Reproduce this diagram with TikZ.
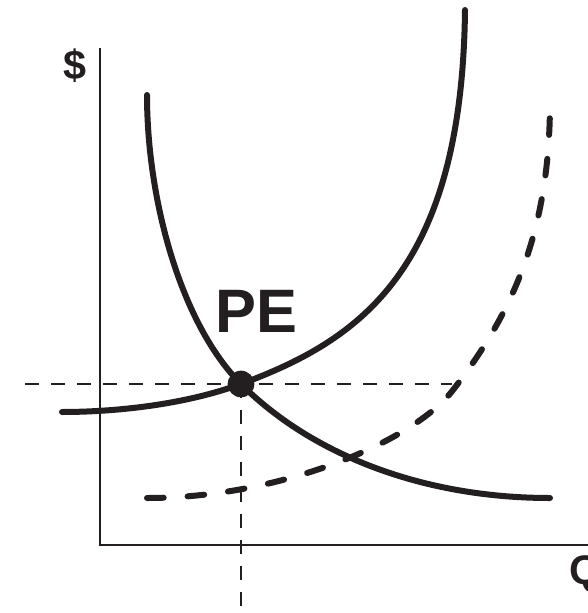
\documentclass[tikz,border=0pt]{standalone}
\usepackage{fontspec}
\setmainfont{Liberation Sans}
\definecolor{ink}{HTML}{231F20}
\begin{document}
\begin{tikzpicture}[x=0.75pt,y=-0.75pt,
  curve/.style={ink,line width=4.5pt,line cap=round,line join=round},
  dcurve/.style={curve,dash pattern=on 12.5pt off 18pt},
  axis/.style={ink,line width=1.9pt},
  guide/.style={ink,line width=1.4pt,dash pattern=on 10.5pt off 9pt},
  lbl/.style={ink,font=\fontsize{31}{31}\selectfont\bfseries,inner sep=0pt}]
\useasboundingbox (0,0) rectangle (588,613);
\clip (0,0) rectangle (588,613);
% axes
\coordinate (ytop) at (100,48);
\coordinate (orig) at (100,545);
\coordinate (xend) at (600,545);
\draw[axis] (ytop) -- (orig) -- (xend);
% labels
\node[lbl] (dollar) at (75,66) {\$};
\node[lbl,anchor=base west] (q) at (569,584) {Q};
% equilibrium point
\node[circle,fill=ink,minimum size=20pt,inner sep=0pt] (pe) at (241,384) {};
\node[ink,font=\fontsize{46}{46}\selectfont\bfseries,inner sep=0pt] (pelbl) at (256,311) {PE};
% guides
\coordinate (hl) at (25,384);
\coordinate (hr) at (452,384);
\coordinate (vb) at (241,620);
\draw[guide] (hl) -- (hr);
\draw[guide] (pe.center) -- (vb);
% end points of curves
\coordinate (s0) at (62,412);
\coordinate (s1) at (465,10);
\coordinate (d0) at (147,95);
\coordinate (d1) at (550,498);
\coordinate (n0) at (147,498);
\coordinate (nm) at (453,390);
\coordinate (n1) at (550,95);
% increasing curve
\draw[curve] (s0) .. controls (110,412) and (181,406) .. (pe.center)
  .. controls (360,340) and (462,270) .. (s1);
% decreasing curve
\draw[curve] (d0) .. controls (147,200) and (181,324) .. (pe.center)
  .. controls (310,453) and (420,498) .. (d1);
% dashed shifted curve
\draw[dcurve] (n0) .. controls (280,498) and (413,442) .. (nm)
  .. controls (515,310) and (551,227) .. (n1);
\end{tikzpicture}
\end{document}
